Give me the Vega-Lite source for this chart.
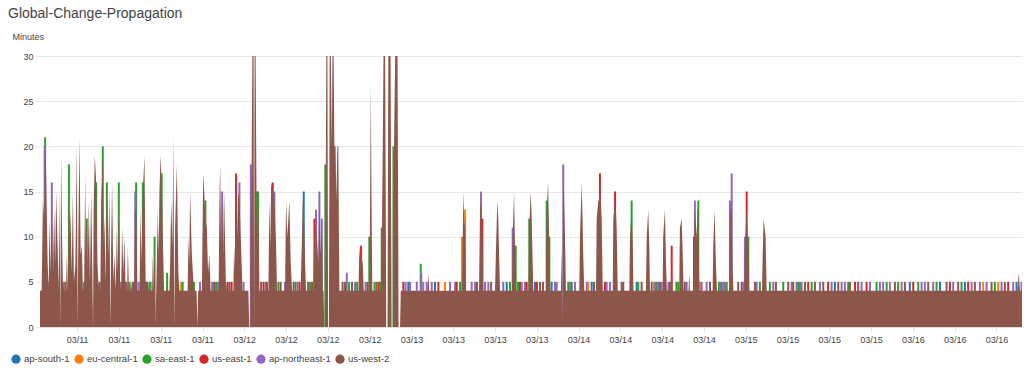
{
"$schema": "https://vega.github.io/schema/vega-lite/v6.json",
"width": 982, "height": 271,
"autosize": {"type": "none"},
"padding": {"left": 40, "top": 56, "right": 2, "bottom": 48},
"background": "white",
"title": {"text": "Global-Change-Propagation", "anchor": "start", "frame": "group", "dx": -32, "fontSize": 14, "fontWeight": "normal", "color": "#444444", "font": "Liberation Sans", "offset": 11},
"config": {"font": "Liberation Sans", "view": {"stroke": null}},
"datasets": {
"w": [
{"t":"2019-03-10T18:40","v":4},{"t":"2019-03-10T18:54","v":4},{"t":"2019-03-10T19:05","v":14},{"t":"2019-03-10T19:16","v":12},{"t":"2019-03-10T19:24","v":20},{"t":"2019-03-10T19:33","v":17},{"t":"2019-03-10T19:46","v":7},{"t":"2019-03-10T19:55","v":4},{"t":"2019-03-10T20:01","v":12},{"t":"2019-03-10T20:12","v":6},{"t":"2019-03-10T20:22","v":14},{"t":"2019-03-10T20:32","v":6},{"t":"2019-03-10T20:42","v":13},{"t":"2019-03-10T20:51","v":7},{"t":"2019-03-10T20:59","v":15},{"t":"2019-03-10T21:14","v":8},{"t":"2019-03-10T21:21","v":4},{"t":"2019-03-10T21:28","v":15},{"t":"2019-03-10T21:35","v":0},{"t":"2019-03-10T21:42","v":19},{"t":"2019-03-10T21:51","v":9},{"t":"2019-03-10T21:57","v":5},{"t":"2019-03-10T22:08","v":4},{"t":"2019-03-10T22:25","v":4},{"t":"2019-03-10T22:31","v":8},{"t":"2019-03-10T22:41","v":4},{"t":"2019-03-10T22:49","v":14},{"t":"2019-03-10T22:55","v":10},{"t":"2019-03-10T23:02","v":13},{"t":"2019-03-10T23:13","v":6},{"t":"2019-03-10T23:23","v":15},{"t":"2019-03-10T23:32","v":5},{"t":"2019-03-10T23:45","v":7},{"t":"2019-03-10T23:57","v":20},
{"t":"2019-03-11T00:05","v":0},{"t":"2019-03-11T00:10","v":10},{"t":"2019-03-11T00:20","v":21},{"t":"2019-03-11T00:30","v":8},{"t":"2019-03-11T00:40","v":9},{"t":"2019-03-11T00:50","v":4},{"t":"2019-03-11T01:00","v":4},{"t":"2019-03-11T01:09","v":17},{"t":"2019-03-11T01:16","v":8},{"t":"2019-03-11T01:23","v":12},{"t":"2019-03-11T01:30","v":6},{"t":"2019-03-11T01:41","v":14},{"t":"2019-03-11T01:50","v":5},{"t":"2019-03-11T02:01","v":15},{"t":"2019-03-11T02:11","v":6},{"t":"2019-03-11T02:17","v":0},{"t":"2019-03-11T02:22","v":13},{"t":"2019-03-11T02:32","v":19},{"t":"2019-03-11T02:44","v":16},{"t":"2019-03-11T02:54","v":7},{"t":"2019-03-11T03:03","v":5},{"t":"2019-03-11T03:14","v":4},{"t":"2019-03-11T03:20","v":4},{"t":"2019-03-11T03:27","v":14},{"t":"2019-03-11T03:41","v":19},{"t":"2019-03-11T03:48","v":9},{"t":"2019-03-11T03:55","v":12},{"t":"2019-03-11T04:05","v":5},{"t":"2019-03-11T04:16","v":15},{"t":"2019-03-11T04:27","v":8},{"t":"2019-03-11T04:38","v":15},{"t":"2019-03-11T04:46","v":0},{"t":"2019-03-11T04:53","v":9},{"t":"2019-03-11T05:01","v":16},{"t":"2019-03-11T05:12","v":5},{"t":"2019-03-11T05:21","v":8},{"t":"2019-03-11T05:32","v":4},{"t":"2019-03-11T05:42","v":11},{"t":"2019-03-11T05:50","v":6},{"t":"2019-03-11T05:59","v":13},{"t":"2019-03-11T06:10","v":5},{"t":"2019-03-11T06:19","v":4},{"t":"2019-03-11T06:28","v":11},{"t":"2019-03-11T06:38","v":6},{"t":"2019-03-11T06:47","v":10},{"t":"2019-03-11T06:58","v":4},{"t":"2019-03-11T07:11","v":4},{"t":"2019-03-11T07:17","v":9},{"t":"2019-03-11T07:26","v":4},{"t":"2019-03-11T07:39","v":4},{"t":"2019-03-11T07:45","v":5},{"t":"2019-03-11T07:54","v":4},{"t":"2019-03-11T08:11","v":4},{"t":"2019-03-11T08:20","v":13},{"t":"2019-03-11T08:28","v":13},{"t":"2019-03-11T08:39","v":4},{"t":"2019-03-11T08:58","v":4},{"t":"2019-03-11T09:05","v":13},{"t":"2019-03-11T09:14","v":7},{"t":"2019-03-11T09:26","v":15},{"t":"2019-03-11T09:40","v":19},{"t":"2019-03-11T09:50","v":5},{"t":"2019-03-11T10:09","v":5},{"t":"2019-03-11T10:18","v":4},{"t":"2019-03-11T10:46","v":4},{"t":"2019-03-11T10:52","v":8},{"t":"2019-03-11T11:00","v":4},{"t":"2019-03-11T11:07","v":9},{"t":"2019-03-11T11:14","v":0},{"t":"2019-03-11T11:23","v":5},{"t":"2019-03-11T11:35","v":13},{"t":"2019-03-11T11:42","v":8},{"t":"2019-03-11T11:49","v":15},{"t":"2019-03-11T11:59","v":19},{"t":"2019-03-11T12:08","v":16},{"t":"2019-03-11T12:18","v":10},{"t":"2019-03-11T12:29","v":4},{"t":"2019-03-11T13:14","v":4},{"t":"2019-03-11T13:21","v":7},{"t":"2019-03-11T13:30","v":14},{"t":"2019-03-11T13:41","v":9},{"t":"2019-03-11T13:49","v":21},{"t":"2019-03-11T13:57","v":0},{"t":"2019-03-11T14:04","v":11},{"t":"2019-03-11T14:19","v":18},{"t":"2019-03-11T14:32","v":6},{"t":"2019-03-11T14:41","v":4},{"t":"2019-03-11T15:52","v":4},{"t":"2019-03-11T15:59","v":10},{"t":"2019-03-11T16:06","v":7},{"t":"2019-03-11T16:13","v":15},{"t":"2019-03-11T16:28","v":8},{"t":"2019-03-11T16:42","v":5},{"t":"2019-03-11T16:52","v":4},{"t":"2019-03-11T17:09","v":4},{"t":"2019-03-11T17:16","v":0},{"t":"2019-03-11T17:22","v":4},{"t":"2019-03-11T17:55","v":4},{"t":"2019-03-11T18:03","v":14},{"t":"2019-03-11T18:08","v":17},{"t":"2019-03-11T18:25","v":12},{"t":"2019-03-11T18:37","v":11},{"t":"2019-03-11T18:48","v":6},{"t":"2019-03-11T18:59","v":8},{"t":"2019-03-11T19:10","v":4},{"t":"2019-03-11T20:19","v":4},{"t":"2019-03-11T20:26","v":14},{"t":"2019-03-11T20:32","v":18},{"t":"2019-03-11T20:40","v":9},{"t":"2019-03-11T20:49","v":14},{"t":"2019-03-11T20:57","v":8},{"t":"2019-03-11T21:06","v":15},{"t":"2019-03-11T21:21","v":5},{"t":"2019-03-11T21:32","v":4},{"t":"2019-03-11T22:26","v":4},{"t":"2019-03-11T22:32","v":9},{"t":"2019-03-11T22:41","v":6},{"t":"2019-03-11T22:49","v":16},{"t":"2019-03-11T22:58","v":10},{"t":"2019-03-11T23:07","v":15},{"t":"2019-03-11T23:18","v":14},{"t":"2019-03-11T23:32","v":9},{"t":"2019-03-11T23:45","v":4},
{"t":"2019-03-12T00:35","v":4},{"t":"2019-03-12T00:43","v":0},{"t":"2019-03-12T00:52","v":0},{"t":"2019-03-12T00:56","v":10},{"t":"2019-03-12T01:03","v":18},{"t":"2019-03-12T01:10","v":31},{"t":"2019-03-12T01:20","v":31},{"t":"2019-03-12T01:24","v":0},{"t":"2019-03-12T01:29","v":31},{"t":"2019-03-12T01:37","v":31},{"t":"2019-03-12T01:46","v":13},{"t":"2019-03-12T01:53","v":8},{"t":"2019-03-12T01:59","v":14},{"t":"2019-03-12T02:10","v":4},{"t":"2019-03-12T03:28","v":4},{"t":"2019-03-12T03:36","v":14},{"t":"2019-03-12T03:44","v":9},{"t":"2019-03-12T03:51","v":16},{"t":"2019-03-12T04:05","v":15},{"t":"2019-03-12T04:19","v":14},{"t":"2019-03-12T04:34","v":9},{"t":"2019-03-12T04:42","v":4},{"t":"2019-03-12T05:51","v":4},{"t":"2019-03-12T06:00","v":14},{"t":"2019-03-12T06:11","v":10},{"t":"2019-03-12T06:28","v":14},{"t":"2019-03-12T06:40","v":7},{"t":"2019-03-12T06:52","v":4},{"t":"2019-03-12T08:05","v":4},{"t":"2019-03-12T08:15","v":9},{"t":"2019-03-12T08:24","v":14},{"t":"2019-03-12T08:35","v":12},{"t":"2019-03-12T08:44","v":7},{"t":"2019-03-12T08:52","v":4},{"t":"2019-03-12T09:55","v":4},{"t":"2019-03-12T10:04","v":11},{"t":"2019-03-12T10:12","v":6},{"t":"2019-03-12T10:18","v":12},{"t":"2019-03-12T10:30","v":9},{"t":"2019-03-12T10:38","v":7},{"t":"2019-03-12T10:47","v":14},{"t":"2019-03-12T10:57","v":8},{"t":"2019-03-12T11:08","v":11},{"t":"2019-03-12T11:16","v":4},{"t":"2019-03-12T11:23","v":4},{"t":"2019-03-12T11:29","v":0},{"t":"2019-03-12T11:36","v":0},{"t":"2019-03-12T11:40","v":10},{"t":"2019-03-12T11:47","v":31},{"t":"2019-03-12T11:56","v":31},{"t":"2019-03-12T12:02","v":0},{"t":"2019-03-12T12:09","v":0},{"t":"2019-03-12T12:16","v":31},{"t":"2019-03-12T12:25","v":31},{"t":"2019-03-12T12:34","v":20},{"t":"2019-03-12T12:40","v":31},{"t":"2019-03-12T12:49","v":31},{"t":"2019-03-12T12:56","v":20},{"t":"2019-03-12T13:06","v":20},{"t":"2019-03-12T13:13","v":14},{"t":"2019-03-12T13:22","v":20},{"t":"2019-03-12T13:30","v":20},{"t":"2019-03-12T13:39","v":4},{"t":"2019-03-12T16:24","v":4},{"t":"2019-03-12T16:31","v":9},{"t":"2019-03-12T16:40","v":7},{"t":"2019-03-12T16:46","v":8},{"t":"2019-03-12T17:01","v":7},{"t":"2019-03-12T17:09","v":4},{"t":"2019-03-12T17:57","v":4},{"t":"2019-03-12T18:02","v":10},{"t":"2019-03-12T18:10","v":27},{"t":"2019-03-12T18:16","v":14},{"t":"2019-03-12T18:23","v":4},{"t":"2019-03-12T19:38","v":4},{"t":"2019-03-12T19:47","v":12},{"t":"2019-03-12T19:53","v":20},{"t":"2019-03-12T20:00","v":31},{"t":"2019-03-12T20:13","v":31},{"t":"2019-03-12T20:23","v":0},{"t":"2019-03-12T20:34","v":0},{"t":"2019-03-12T20:41","v":31},{"t":"2019-03-12T21:00","v":31},{"t":"2019-03-12T21:09","v":0},{"t":"2019-03-12T21:22","v":0},{"t":"2019-03-12T21:30","v":20},{"t":"2019-03-12T21:41","v":31},{"t":"2019-03-12T22:00","v":31},{"t":"2019-03-12T22:09","v":0},{"t":"2019-03-12T22:22","v":0},{"t":"2019-03-12T22:28","v":4},
{"t":"2019-03-13T02:19","v":4},{"t":"2019-03-13T02:26","v":6},{"t":"2019-03-13T02:33","v":4},{"t":"2019-03-13T07:16","v":4},{"t":"2019-03-13T07:27","v":15},{"t":"2019-03-13T07:36","v":11},{"t":"2019-03-13T07:42","v":12},{"t":"2019-03-13T07:50","v":4},{"t":"2019-03-13T09:42","v":4},{"t":"2019-03-13T09:51","v":13},{"t":"2019-03-13T09:59","v":14},{"t":"2019-03-13T10:11","v":11},{"t":"2019-03-13T10:19","v":4},{"t":"2019-03-13T12:00","v":4},{"t":"2019-03-13T12:09","v":9},{"t":"2019-03-13T12:20","v":14},{"t":"2019-03-13T12:28","v":12},{"t":"2019-03-13T12:35","v":8},{"t":"2019-03-13T12:43","v":4},{"t":"2019-03-13T14:26","v":4},{"t":"2019-03-13T14:32","v":10},{"t":"2019-03-13T14:44","v":15},{"t":"2019-03-13T14:52","v":9},{"t":"2019-03-13T15:01","v":4},{"t":"2019-03-13T16:49","v":4},{"t":"2019-03-13T16:55","v":11},{"t":"2019-03-13T17:08","v":15},{"t":"2019-03-13T17:16","v":12},{"t":"2019-03-13T17:21","v":9},{"t":"2019-03-13T17:30","v":4},{"t":"2019-03-13T19:19","v":4},{"t":"2019-03-13T19:25","v":13},{"t":"2019-03-13T19:37","v":16},{"t":"2019-03-13T19:48","v":9},{"t":"2019-03-13T19:56","v":4},{"t":"2019-03-13T21:28","v":4},{"t":"2019-03-13T21:34","v":9},{"t":"2019-03-13T21:40","v":0},{"t":"2019-03-13T21:48","v":17},{"t":"2019-03-13T21:57","v":13},{"t":"2019-03-13T22:03","v":10},{"t":"2019-03-13T22:11","v":4},
{"t":"2019-03-14T00:06","v":4},{"t":"2019-03-14T00:12","v":10},{"t":"2019-03-14T00:27","v":16},{"t":"2019-03-14T00:34","v":12},{"t":"2019-03-14T00:40","v":8},{"t":"2019-03-14T00:49","v":4},{"t":"2019-03-14T02:30","v":4},{"t":"2019-03-14T02:36","v":12},{"t":"2019-03-14T02:50","v":14},{"t":"2019-03-14T02:57","v":14},{"t":"2019-03-14T03:04","v":16},{"t":"2019-03-14T03:19","v":12},{"t":"2019-03-14T03:28","v":4},{"t":"2019-03-14T04:54","v":4},{"t":"2019-03-14T04:59","v":12},{"t":"2019-03-14T05:14","v":14},{"t":"2019-03-14T05:22","v":13},{"t":"2019-03-14T05:28","v":11},{"t":"2019-03-14T05:37","v":4},{"t":"2019-03-14T07:17","v":4},{"t":"2019-03-14T07:23","v":10},{"t":"2019-03-14T07:37","v":13},{"t":"2019-03-14T07:46","v":9},{"t":"2019-03-14T07:53","v":4},{"t":"2019-03-14T09:40","v":4},{"t":"2019-03-14T09:47","v":10},{"t":"2019-03-14T10:00","v":13},{"t":"2019-03-14T10:09","v":9},{"t":"2019-03-14T10:15","v":4},{"t":"2019-03-14T12:04","v":4},{"t":"2019-03-14T12:09","v":10},{"t":"2019-03-14T12:24","v":13},{"t":"2019-03-14T12:33","v":7},{"t":"2019-03-14T12:41","v":4},{"t":"2019-03-14T13:16","v":4},{"t":"2019-03-14T13:22","v":8},{"t":"2019-03-14T13:29","v":4},{"t":"2019-03-14T14:27","v":4},{"t":"2019-03-14T14:33","v":11},{"t":"2019-03-14T14:48","v":12},{"t":"2019-03-14T14:57","v":8},{"t":"2019-03-14T15:05","v":4},{"t":"2019-03-14T15:47","v":4},{"t":"2019-03-14T15:53","v":6},{"t":"2019-03-14T15:59","v":4},{"t":"2019-03-14T16:28","v":4},{"t":"2019-03-14T16:34","v":10},{"t":"2019-03-14T16:42","v":13},{"t":"2019-03-14T16:57","v":10},{"t":"2019-03-14T17:04","v":13},{"t":"2019-03-14T17:11","v":13},{"t":"2019-03-14T17:20","v":4},{"t":"2019-03-14T19:15","v":4},{"t":"2019-03-14T19:20","v":9},{"t":"2019-03-14T19:32","v":13},{"t":"2019-03-14T19:43","v":7},{"t":"2019-03-14T19:52","v":4},{"t":"2019-03-14T21:38","v":4},{"t":"2019-03-14T21:44","v":12},{"t":"2019-03-14T21:59","v":14},{"t":"2019-03-14T22:07","v":6},{"t":"2019-03-14T22:14","v":4},{"t":"2019-03-14T23:47","v":4},{"t":"2019-03-14T23:53","v":9},
{"t":"2019-03-15T00:08","v":13},{"t":"2019-03-15T00:22","v":9},{"t":"2019-03-15T00:30","v":4},{"t":"2019-03-15T02:20","v":4},{"t":"2019-03-15T02:26","v":8},{"t":"2019-03-15T02:34","v":12},{"t":"2019-03-15T02:51","v":10},{"t":"2019-03-15T03:00","v":4},
{"t":"2019-03-16T15:00","v":4},{"t":"2019-03-16T15:13","v":6},{"t":"2019-03-16T15:22","v":4},{"t":"2019-03-16T15:40","v":4}
],
"o": [
{"r":"sa-east-1","t":"2019-03-10T19:24","v":21},{"r":"sa-east-1","t":"2019-03-10T22:49","v":18},{"r":"sa-east-1","t":"2019-03-11T01:23","v":12},{"r":"sa-east-1","t":"2019-03-11T02:44","v":16},{"r":"sa-east-1","t":"2019-03-11T03:41","v":20},{"r":"sa-east-1","t":"2019-03-11T04:16","v":16},{"r":"sa-east-1","t":"2019-03-11T05:59","v":16},{"r":"sa-east-1","t":"2019-03-11T08:28","v":16},{"r":"sa-east-1","t":"2019-03-11T09:26","v":16},{"r":"sa-east-1","t":"2019-03-11T10:23","v":5},{"r":"sa-east-1","t":"2019-03-11T11:07","v":10},{"r":"sa-east-1","t":"2019-03-11T12:08","v":17},{"r":"sa-east-1","t":"2019-03-11T12:55","v":6},{"r":"sa-east-1","t":"2019-03-11T18:25","v":14},{"r":"sa-east-1","t":"2019-03-12T01:48","v":15},{"r":"sa-east-1","t":"2019-03-12T01:59","v":15},{"r":"sa-east-1","t":"2019-03-12T11:38","v":18},{"r":"sa-east-1","t":"2019-03-12T17:57","v":10},{"r":"sa-east-1","t":"2019-03-12T19:44","v":11},{"r":"sa-east-1","t":"2019-03-12T21:25","v":20},{"r":"sa-east-1","t":"2019-03-13T01:20","v":7},{"r":"sa-east-1","t":"2019-03-13T14:58","v":9},{"r":"sa-east-1","t":"2019-03-13T16:55","v":12},{"r":"sa-east-1","t":"2019-03-13T19:25","v":14},{"r":"sa-east-1","t":"2019-03-13T19:48","v":10},{"r":"sa-east-1","t":"2019-03-14T07:37","v":14},{"r":"sa-east-1","t":"2019-03-14T17:11","v":14},{"r":"sa-east-1","t":"2019-03-15T00:22","v":10},
{"r":"ap-northeast-1","t":"2019-03-10T19:20","v":20},{"r":"ap-northeast-1","t":"2019-03-10T20:22","v":16},{"r":"ap-northeast-1","t":"2019-03-11T08:20","v":15},{"r":"ap-northeast-1","t":"2019-03-11T20:49","v":15},{"r":"ap-northeast-1","t":"2019-03-11T23:18","v":16},{"r":"ap-northeast-1","t":"2019-03-12T00:56","v":18},{"r":"ap-northeast-1","t":"2019-03-12T04:19","v":15},{"r":"ap-northeast-1","t":"2019-03-12T10:18","v":13},{"r":"ap-northeast-1","t":"2019-03-12T10:47","v":15},{"r":"ap-northeast-1","t":"2019-03-12T11:08","v":12},{"r":"ap-northeast-1","t":"2019-03-12T14:43","v":6},{"r":"ap-northeast-1","t":"2019-03-13T01:25","v":6},{"r":"ap-northeast-1","t":"2019-03-13T09:59","v":15},{"r":"ap-northeast-1","t":"2019-03-13T14:32","v":11},{"r":"ap-northeast-1","t":"2019-03-13T21:48","v":18},{"r":"ap-northeast-1","t":"2019-03-14T16:42","v":14},{"r":"ap-northeast-1","t":"2019-03-14T21:44","v":14},{"r":"ap-northeast-1","t":"2019-03-14T21:59","v":17},{"r":"ap-northeast-1","t":"2019-03-14T23:53","v":10},
{"r":"us-east-1","t":"2019-03-11T22:49","v":17},{"r":"us-east-1","t":"2019-03-12T04:05","v":16},{"r":"us-east-1","t":"2019-03-12T10:04","v":12},{"r":"us-east-1","t":"2019-03-12T16:46","v":9},{"r":"us-east-1","t":"2019-03-13T10:11","v":12},{"r":"us-east-1","t":"2019-03-14T03:04","v":17},{"r":"us-east-1","t":"2019-03-14T05:14","v":15},{"r":"us-east-1","t":"2019-03-14T13:22","v":9},{"r":"us-east-1","t":"2019-03-14T16:34","v":10},{"r":"us-east-1","t":"2019-03-15T00:08","v":15},
{"r":"eu-central-1","t":"2019-03-13T07:16","v":10},{"r":"eu-central-1","t":"2019-03-13T07:42","v":13},
{"r":"ap-south-1","t":"2019-03-12T08:32","v":15},
{"r":"ap-northeast-1","t":"2019-03-10T19:48","v":5},{"r":"sa-east-1","t":"2019-03-10T21:57","v":5},{"r":"us-west-2","t":"2019-03-10T22:17","v":5},
{"r":"sa-east-1","t":"2019-03-11T01:00","v":5},{"r":"us-west-2","t":"2019-03-11T03:14","v":5},{"r":"ap-northeast-1","t":"2019-03-11T06:19","v":5},{"r":"us-west-2","t":"2019-03-11T07:02","v":5},{"r":"sa-east-1","t":"2019-03-11T07:32","v":5},{"r":"us-west-2","t":"2019-03-11T08:02","v":5},{"r":"ap-northeast-1","t":"2019-03-11T08:50","v":5},{"r":"us-west-2","t":"2019-03-11T09:59","v":5},{"r":"sa-east-1","t":"2019-03-11T10:33","v":5},{"r":"eu-central-1","t":"2019-03-11T14:56","v":5},{"r":"sa-east-1","t":"2019-03-11T15:09","v":5},{"r":"sa-east-1","t":"2019-03-11T16:46","v":5},{"r":"ap-northeast-1","t":"2019-03-11T17:39","v":5},{"r":"ap-northeast-1","t":"2019-03-11T19:23","v":5},{"r":"us-west-2","t":"2019-03-11T19:40","v":5},{"r":"sa-east-1","t":"2019-03-11T19:57","v":5},{"r":"ap-northeast-1","t":"2019-03-11T20:14","v":5},{"r":"us-east-1","t":"2019-03-11T21:36","v":5},{"r":"us-west-2","t":"2019-03-11T21:53","v":5},{"r":"us-east-1","t":"2019-03-11T22:11","v":5},{"r":"ap-northeast-1","t":"2019-03-11T23:54","v":5},
{"r":"us-west-2","t":"2019-03-12T02:25","v":5},{"r":"us-east-1","t":"2019-03-12T02:46","v":5},{"r":"ap-northeast-1","t":"2019-03-12T03:03","v":5},{"r":"us-west-2","t":"2019-03-12T03:16","v":5},{"r":"sa-east-1","t":"2019-03-12T04:54","v":5},{"r":"us-west-2","t":"2019-03-12T05:13","v":5},{"r":"ap-northeast-1","t":"2019-03-12T05:50","v":5},{"r":"us-west-2","t":"2019-03-12T07:05","v":5},{"r":"sa-east-1","t":"2019-03-12T07:22","v":5},{"r":"ap-northeast-1","t":"2019-03-12T07:39","v":5},{"r":"us-east-1","t":"2019-03-12T07:56","v":5},{"r":"us-west-2","t":"2019-03-12T09:10","v":5},{"r":"sa-east-1","t":"2019-03-12T09:27","v":5},{"r":"us-west-2","t":"2019-03-12T09:44","v":5},{"r":"us-west-2","t":"2019-03-12T14:07","v":5},{"r":"us-west-2","t":"2019-03-12T14:28","v":5},{"r":"sa-east-1","t":"2019-03-12T15:03","v":5},{"r":"us-west-2","t":"2019-03-12T15:28","v":5},{"r":"ap-northeast-1","t":"2019-03-12T15:54","v":5},{"r":"sa-east-1","t":"2019-03-12T16:12","v":5},{"r":"ap-northeast-1","t":"2019-03-12T17:25","v":5},{"r":"us-west-2","t":"2019-03-12T17:42","v":5},{"r":"sa-east-1","t":"2019-03-12T18:42","v":5},{"r":"us-west-2","t":"2019-03-12T18:59","v":5},{"r":"us-east-1","t":"2019-03-12T19:17","v":5},{"r":"sa-east-1","t":"2019-03-12T19:30","v":5},{"r":"us-east-1","t":"2019-03-12T22:50","v":5},{"r":"ap-northeast-1","t":"2019-03-12T23:09","v":5},{"r":"ap-south-1","t":"2019-03-12T23:33","v":5},{"r":"ap-northeast-1","t":"2019-03-12T23:48","v":5},
{"r":"ap-northeast-1","t":"2019-03-13T00:46","v":5},{"r":"ap-northeast-1","t":"2019-03-13T01:42","v":5},{"r":"ap-northeast-1","t":"2019-03-13T02:12","v":5},{"r":"ap-northeast-1","t":"2019-03-13T02:55","v":5},{"r":"ap-south-1","t":"2019-03-13T03:23","v":5},{"r":"us-east-1","t":"2019-03-13T03:52","v":5},{"r":"eu-central-1","t":"2019-03-13T04:49","v":5},{"r":"ap-northeast-1","t":"2019-03-13T05:32","v":5},{"r":"ap-northeast-1","t":"2019-03-13T06:16","v":5},{"r":"us-east-1","t":"2019-03-13T06:30","v":5},{"r":"sa-east-1","t":"2019-03-13T06:59","v":5},{"r":"ap-northeast-1","t":"2019-03-13T08:39","v":5},{"r":"ap-northeast-1","t":"2019-03-13T09:08","v":5},{"r":"us-west-2","t":"2019-03-13T09:25","v":5},{"r":"ap-northeast-1","t":"2019-03-13T10:34","v":5},{"r":"ap-northeast-1","t":"2019-03-13T11:02","v":5},{"r":"us-west-2","t":"2019-03-13T11:26","v":5},{"r":"ap-northeast-1","t":"2019-03-13T13:11","v":5},{"r":"ap-south-1","t":"2019-03-13T13:41","v":5},{"r":"sa-east-1","t":"2019-03-13T14:09","v":5},{"r":"sa-east-1","t":"2019-03-13T15:18","v":5},{"r":"us-east-1","t":"2019-03-13T15:35","v":5},{"r":"ap-northeast-1","t":"2019-03-13T15:50","v":5},{"r":"ap-northeast-1","t":"2019-03-13T16:18","v":5},{"r":"us-east-1","t":"2019-03-13T16:33","v":5},{"r":"ap-south-1","t":"2019-03-13T17:44","v":5},{"r":"us-east-1","t":"2019-03-13T18:01","v":5},{"r":"us-west-2","t":"2019-03-13T18:28","v":5},{"r":"us-west-2","t":"2019-03-13T18:53","v":5},{"r":"ap-south-1","t":"2019-03-13T20:08","v":5},{"r":"ap-northeast-1","t":"2019-03-13T20:37","v":5},{"r":"ap-northeast-1","t":"2019-03-13T20:51","v":5},{"r":"sa-east-1","t":"2019-03-13T22:31","v":5},{"r":"ap-northeast-1","t":"2019-03-13T22:46","v":5},{"r":"sa-east-1","t":"2019-03-13T23:01","v":5},{"r":"ap-northeast-1","t":"2019-03-13T23:29","v":5},
{"r":"ap-northeast-1","t":"2019-03-14T01:10","v":5},{"r":"eu-central-1","t":"2019-03-14T01:24","v":5},{"r":"ap-south-1","t":"2019-03-14T01:53","v":5},{"r":"us-west-2","t":"2019-03-14T02:13","v":5},{"r":"us-east-1","t":"2019-03-14T03:47","v":5},{"r":"ap-northeast-1","t":"2019-03-14T04:02","v":5},{"r":"ap-northeast-1","t":"2019-03-14T04:30","v":5},{"r":"us-west-2","t":"2019-03-14T06:11","v":5},{"r":"us-west-2","t":"2019-03-14T06:25","v":5},{"r":"ap-south-1","t":"2019-03-14T08:20","v":5},{"r":"sa-east-1","t":"2019-03-14T08:34","v":5},{"r":"us-west-2","t":"2019-03-14T09:03","v":5},{"r":"ap-south-1","t":"2019-03-14T10:30","v":5},{"r":"eu-central-1","t":"2019-03-14T10:43","v":5},{"r":"ap-northeast-1","t":"2019-03-14T10:58","v":5},{"r":"sa-east-1","t":"2019-03-14T11:13","v":5},{"r":"ap-northeast-1","t":"2019-03-14T11:26","v":5},{"r":"us-west-2","t":"2019-03-14T11:41","v":5},{"r":"ap-northeast-1","t":"2019-03-14T11:56","v":5},{"r":"ap-northeast-1","t":"2019-03-14T12:54","v":5},{"r":"us-west-2","t":"2019-03-14T13:07","v":5},{"r":"sa-east-1","t":"2019-03-14T14:03","v":5},{"r":"sa-east-1","t":"2019-03-14T14:19","v":5},{"r":"us-west-2","t":"2019-03-14T15:16","v":5},{"r":"ap-northeast-1","t":"2019-03-14T15:31","v":5},{"r":"eu-central-1","t":"2019-03-14T17:26","v":5},{"r":"ap-northeast-1","t":"2019-03-14T17:40","v":5},{"r":"ap-northeast-1","t":"2019-03-14T18:23","v":5},{"r":"us-west-2","t":"2019-03-14T18:52","v":5},{"r":"sa-east-1","t":"2019-03-14T20:09","v":5},{"r":"ap-northeast-1","t":"2019-03-14T20:18","v":5},{"r":"sa-east-1","t":"2019-03-14T20:32","v":5},{"r":"ap-northeast-1","t":"2019-03-14T20:46","v":5},{"r":"ap-northeast-1","t":"2019-03-14T21:01","v":5},{"r":"sa-east-1","t":"2019-03-14T21:16","v":5},{"r":"us-west-2","t":"2019-03-14T22:55","v":5},{"r":"us-west-2","t":"2019-03-14T23:25","v":5},{"r":"ap-northeast-1","t":"2019-03-14T23:39","v":5},
{"r":"us-west-2","t":"2019-03-15T01:19","v":5},{"r":"ap-northeast-1","t":"2019-03-15T01:34","v":5},{"r":"sa-east-1","t":"2019-03-15T02:02","v":5},{"r":"sa-east-1","t":"2019-03-15T03:28","v":5},{"r":"ap-northeast-1","t":"2019-03-15T03:57","v":5},{"r":"us-west-2","t":"2019-03-15T04:20","v":5},{"r":"sa-east-1","t":"2019-03-15T05:23","v":5},{"r":"us-west-2","t":"2019-03-15T06:06","v":5},{"r":"ap-northeast-1","t":"2019-03-15T06:35","v":5},{"r":"us-west-2","t":"2019-03-15T06:49","v":5},{"r":"ap-northeast-1","t":"2019-03-15T07:18","v":5},{"r":"sa-east-1","t":"2019-03-15T07:32","v":5},{"r":"sa-east-1","t":"2019-03-15T07:47","v":5},{"r":"ap-northeast-1","t":"2019-03-15T08:01","v":5},{"r":"us-west-2","t":"2019-03-15T08:30","v":5},{"r":"us-east-1","t":"2019-03-15T08:58","v":5},{"r":"sa-east-1","t":"2019-03-15T09:28","v":5},{"r":"us-west-2","t":"2019-03-15T09:56","v":5},{"r":"ap-northeast-1","t":"2019-03-15T10:39","v":5},{"r":"us-west-2","t":"2019-03-15T11:08","v":5},{"r":"us-east-1","t":"2019-03-15T11:50","v":5},{"r":"ap-northeast-1","t":"2019-03-15T12:20","v":5},{"r":"ap-south-1","t":"2019-03-15T12:48","v":5},{"r":"us-west-2","t":"2019-03-15T13:17","v":5},{"r":"ap-northeast-1","t":"2019-03-15T13:46","v":5},{"r":"ap-northeast-1","t":"2019-03-15T14:14","v":5},{"r":"sa-east-1","t":"2019-03-15T14:43","v":5},{"r":"us-west-2","t":"2019-03-15T14:57","v":5},{"r":"us-east-1","t":"2019-03-15T15:41","v":5},{"r":"us-west-2","t":"2019-03-15T16:09","v":5},{"r":"ap-northeast-1","t":"2019-03-15T16:38","v":5},{"r":"us-east-1","t":"2019-03-15T17:21","v":5},{"r":"ap-northeast-1","t":"2019-03-15T17:50","v":5},{"r":"sa-east-1","t":"2019-03-15T18:47","v":5},{"r":"ap-northeast-1","t":"2019-03-15T19:16","v":5},{"r":"ap-northeast-1","t":"2019-03-15T19:44","v":5},{"r":"sa-east-1","t":"2019-03-15T20:14","v":5},{"r":"ap-northeast-1","t":"2019-03-15T20:42","v":5},{"r":"us-west-2","t":"2019-03-15T21:25","v":5},{"r":"sa-east-1","t":"2019-03-15T21:53","v":5},{"r":"ap-northeast-1","t":"2019-03-15T22:23","v":5},{"r":"us-west-2","t":"2019-03-15T22:51","v":5},{"r":"ap-south-1","t":"2019-03-15T23:34","v":5},
{"r":"us-east-1","t":"2019-03-16T00:03","v":5},{"r":"sa-east-1","t":"2019-03-16T00:46","v":5},{"r":"ap-northeast-1","t":"2019-03-16T01:15","v":5},{"r":"ap-northeast-1","t":"2019-03-16T01:43","v":5},{"r":"us-west-2","t":"2019-03-16T02:12","v":5},{"r":"ap-northeast-1","t":"2019-03-16T02:55","v":5},{"r":"sa-east-1","t":"2019-03-16T03:24","v":5},{"r":"ap-south-1","t":"2019-03-16T03:53","v":5},{"r":"us-west-2","t":"2019-03-16T04:50","v":5},{"r":"us-east-1","t":"2019-03-16T05:19","v":5},{"r":"ap-northeast-1","t":"2019-03-16T05:47","v":5},{"r":"us-west-2","t":"2019-03-16T06:30","v":5},{"r":"sa-east-1","t":"2019-03-16T06:59","v":5},{"r":"ap-south-1","t":"2019-03-16T07:28","v":5},{"r":"us-east-1","t":"2019-03-16T07:56","v":5},{"r":"ap-northeast-1","t":"2019-03-16T08:26","v":5},{"r":"us-west-2","t":"2019-03-16T08:54","v":5},{"r":"ap-northeast-1","t":"2019-03-16T09:37","v":5},{"r":"eu-central-1","t":"2019-03-16T10:05","v":5},{"r":"ap-northeast-1","t":"2019-03-16T10:35","v":5},{"r":"us-west-2","t":"2019-03-16T11:18","v":5},{"r":"sa-east-1","t":"2019-03-16T11:46","v":5},{"r":"eu-central-1","t":"2019-03-16T12:15","v":5},{"r":"ap-northeast-1","t":"2019-03-16T12:44","v":5},{"r":"us-west-2","t":"2019-03-16T13:12","v":5},{"r":"us-east-1","t":"2019-03-16T13:41","v":5},{"r":"ap-northeast-1","t":"2019-03-16T14:24","v":5},{"r":"ap-south-1","t":"2019-03-16T14:53","v":5},{"r":"ap-northeast-1","t":"2019-03-16T15:36","v":5}
]
},
"layer": [
{"data": {"name": "o"},
 "mark": {"type": "bar", "width": 2, "clip": true},
 "encoding": {
  "x": {"field": "t", "type": "temporal",
   "scale": {"nice": false, "padding": 0},
   "axis": {"title": null, "format": "%m/%d", "tickCount": 24, "grid": false, "labelFontSize": 9, "labelColor": "#444444", "labelFlush": false, "domainColor": "#dddddd", "tickColor": "#dddddd", "tickSize": 4, "labelPadding": 4}},
  "y": {"field": "v", "type": "quantitative", "stack": null,
   "scale": {"domain": [0, 30], "nice": false, "zero": true},
   "axis": {"values": [0, 5, 10, 15, 20, 25, 30], "grid": true, "gridColor": "#e8e8e8", "domain": false, "tickColor": "#e8e8e8", "tickSize": 5, "labelPadding": 2, "labelFontSize": 9, "labelColor": "#444444", "title": "Minutes", "titleAngle": 0, "titleAlign": "left", "titleBaseline": "alphabetic", "titleX": -28, "titleY": -17, "titleFontSize": 9, "titleFontWeight": "normal", "titleColor": "#444444"}},
  "color": {"field": "r", "type": "nominal",
   "scale": {"domain": ["ap-south-1", "eu-central-1", "sa-east-1", "us-east-1", "ap-northeast-1", "us-west-2"], "range": ["#1f77b4", "#ff7f0e", "#2ca02c", "#d62728", "#9467bd", "#8c564b"]},
   "legend": {"orient": "none", "legendX": -29, "legendY": 298, "direction": "horizontal", "title": null, "symbolType": "circle", "symbolSize": 85, "symbolStrokeWidth": 0, "symbolOpacity": 1, "labelFontSize": 9.5, "labelColor": "#444444", "columnPadding": 4, "labelOffset": 3}}}},
{"data": {"name": "w"},
 "mark": {"type": "area", "clip": true, "opacity": 1, "interpolate": "linear", "color": "#8c564b"},
 "encoding": {
  "x": {"field": "t", "type": "temporal"},
  "y": {"field": "v", "type": "quantitative", "stack": null}}}
]
}
